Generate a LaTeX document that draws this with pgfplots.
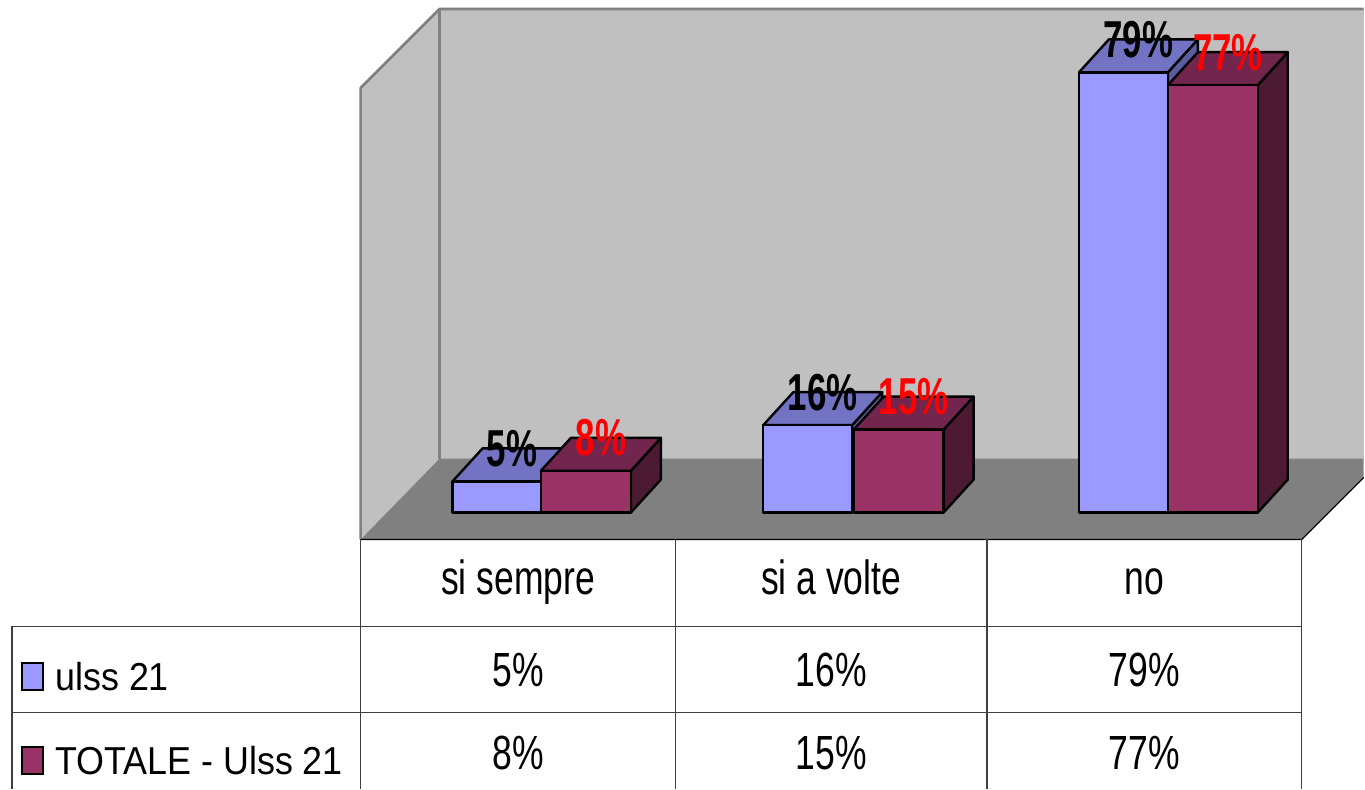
\documentclass[border=0pt]{standalone}
\usepackage{pgfplots}
\pgfplotsset{compat=1.18}
\usepackage{fontspec}
\setmainfont{Liberation Sans}
\newfontfamily\tabfont{Liberation Sans}[FakeStretch=0.74]
\newfontfamily\legfont{Liberation Sans}[FakeStretch=0.92]
\newfontfamily\lblfont{Liberation Sans}[FakeStretch=0.67]
\definecolor{ulssF}{HTML}{9999FF}
\definecolor{ulssT}{HTML}{7373C4}
\definecolor{ulssS}{HTML}{5C5CA0}
\definecolor{totF}{HTML}{993366}
\definecolor{totT}{HTML}{73264D}
\definecolor{totS}{HTML}{4D1A33}
\definecolor{wallc}{HTML}{C0C0C0}
\definecolor{floorc}{HTML}{808080}
\definecolor{edgec}{HTML}{808080}
\definecolor{tablec}{HTML}{404040}
\begin{document}
\begin{tikzpicture}
% ---------- background, walls, table (pixel coordinates) ----------
\begin{axis}[scale only axis, width=682.5pt, height=395pt,
  xmin=0, xmax=1365, ymin=0, ymax=790, y dir=reverse,
  hide axis, clip=false]
\addplot[draw=none] coordinates {(0,0) (1365,790)};
\addplot[fill=wallc, draw=none] coordinates {(440,9) (1365,9) (1365,459) (440,459)} --cycle;
\addplot[fill=wallc, draw=none] coordinates {(361,88) (440,9) (440,459) (361,540)} --cycle;
\addplot[fill=floorc, draw=none] coordinates {(361,540) (440,459) (1365,459) (1365,477) (1303,540)} --cycle;
\addplot[draw=edgec, line width=1.3pt, line join=round] coordinates {(361,540) (361,88) (440,9) (1365,9)};
\addplot[draw=edgec, line width=1.3pt] coordinates {(440,9) (440,459)};
\addplot[draw=black, line width=0.6pt] coordinates {(361,540) (1303,540) (1365,478)};
% table grid
\addplot[draw=tablec, line width=0.7pt] coordinates {(12,627) (1303,627)};
\addplot[draw=tablec, line width=0.7pt] coordinates {(12,713) (1303,713)};
\addplot[draw=tablec, line width=0.7pt] coordinates {(12,627) (12,790)};
\addplot[draw=tablec, line width=0.7pt] coordinates {(361,540) (361,790)};
\addplot[draw=tablec, line width=0.7pt] coordinates {(676,540) (676,790)};
\addplot[draw=tablec, line width=0.7pt] coordinates {(988,540) (988,790)};
\addplot[draw=tablec, line width=0.7pt] coordinates {(1303,540) (1303,790)};
% legend keys
\addplot[fill=ulssF, draw=black, line width=0.9pt] coordinates {(22,664) (43,664) (43,691) (22,691)} --cycle;
\addplot[fill=totF, draw=black, line width=0.9pt] coordinates {(22,748) (43,748) (43,775) (22,775)} --cycle;
% table text
\begin{scope}[every node/.style={inner sep=0pt, anchor=base, font=\tabfont\fontsize{24}{28}\selectfont}]
\node at (axis cs:518.5,595) {si sempre};
\node at (axis cs:832,595) {si a volte};
\node at (axis cs:1145.5,595) {no};
\node at (axis cs:518.5,687) {5\%};
\node at (axis cs:832,687) {16\%};
\node at (axis cs:1145.5,687) {79\%};
\node at (axis cs:518.5,770) {8\%};
\node at (axis cs:832,770) {15\%};
\node at (axis cs:1145.5,770) {77\%};
\end{scope}
\begin{scope}[every node/.style={inner sep=0pt, anchor=base west, font=\legfont\fontsize{19.5}{23}\selectfont}]
\node at (axis cs:55,691) {ulss 21};
\node at (axis cs:55,775) {TOTALE - Ulss 21};
\end{scope}
\end{axis}
% ---------- bars (x in pixels, y in percent) ----------
\begin{axis}[scale only axis, width=682.5pt, height=395pt,
  xmin=0, xmax=1365, ymin=-49.73, ymax=92.1,
  hide axis, clip=false]
% ulss 21: side faces, top faces, fronts
\addplot[fill=ulssS, draw=black, line width=1.2pt, line join=round] coordinates {(542,0) (572,5.92) (572,11.52) (542,5.6)} --cycle;
\addplot[fill=ulssS, draw=black, line width=1.2pt, line join=round] coordinates {(853,0) (883,5.92) (883,21.62) (853,15.7)} --cycle;
\addplot[fill=ulssS, draw=black, line width=1.2pt, line join=round] coordinates {(1169,0) (1199,5.92) (1199,85.02) (1169,79.1)} --cycle;
\addplot[fill=ulssT, draw=black, line width=1.2pt, line join=round] coordinates {(453,5.6) (483,11.52) (572,11.52) (542,5.6)} --cycle;
\addplot[fill=ulssT, draw=black, line width=1.2pt, line join=round] coordinates {(764,15.7) (794,21.62) (883,21.62) (853,15.7)} --cycle;
\addplot[fill=ulssT, draw=black, line width=1.2pt, line join=round] coordinates {(1080,79.1) (1110,85.02) (1199,85.02) (1169,79.1)} --cycle;
\addplot[ybar, bar width=89, bar shift=0pt, fill=ulssF, draw=black, line width=1.2pt, line join=round]
  coordinates {(497.5,5.6) (808.5,15.7) (1124.5,79.1)};
% TOTALE - Ulss 21
\addplot[fill=totS, draw=black, line width=1.2pt, line join=round] coordinates {(631.5,0) (661.5,5.92) (661.5,13.42) (631.5,7.5)} --cycle;
\addplot[fill=totS, draw=black, line width=1.2pt, line join=round] coordinates {(944.5,0) (974.5,5.92) (974.5,20.82) (944.5,14.9)} --cycle;
\addplot[fill=totS, draw=black, line width=1.2pt, line join=round] coordinates {(1259,0) (1289,5.92) (1289,82.72) (1259,76.8)} --cycle;
\addplot[fill=totT, draw=black, line width=1.2pt, line join=round] coordinates {(541.5,7.5) (571.5,13.42) (661.5,13.42) (631.5,7.5)} --cycle;
\addplot[fill=totT, draw=black, line width=1.2pt, line join=round] coordinates {(854.5,14.9) (884.5,20.82) (974.5,20.82) (944.5,14.9)} --cycle;
\addplot[fill=totT, draw=black, line width=1.2pt, line join=round] coordinates {(1169,76.8) (1199,82.72) (1289,82.72) (1259,76.8)} --cycle;
\addplot[ybar, bar width=90, bar shift=0pt, fill=totF, draw=black, line width=1.2pt, line join=round]
  coordinates {(586.5,7.5) (899.5,14.9) (1214,76.8)};
% data labels
\addplot[draw=none, nodes near coords, point meta=explicit symbolic, nodes near coords align=center,
  nodes near coords style={inner sep=0pt, text=black, font=\lblfont\bfseries\fontsize{26}{30}\selectfont}]
  coordinates {(512.5,11.52) [5\%] (823.5,21.62) [16\%] (1139.5,85.02) [79\%]};
\addplot[draw=none, nodes near coords, point meta=explicit symbolic, nodes near coords align=center,
  nodes near coords style={inner sep=0pt, text=red, font=\lblfont\bfseries\fontsize{26}{30}\selectfont}]
  coordinates {(601.5,13.42) [8\%] (914.5,20.82) [15\%] (1229,82.72) [77\%]};
\end{axis}
\end{tikzpicture}
\end{document}
